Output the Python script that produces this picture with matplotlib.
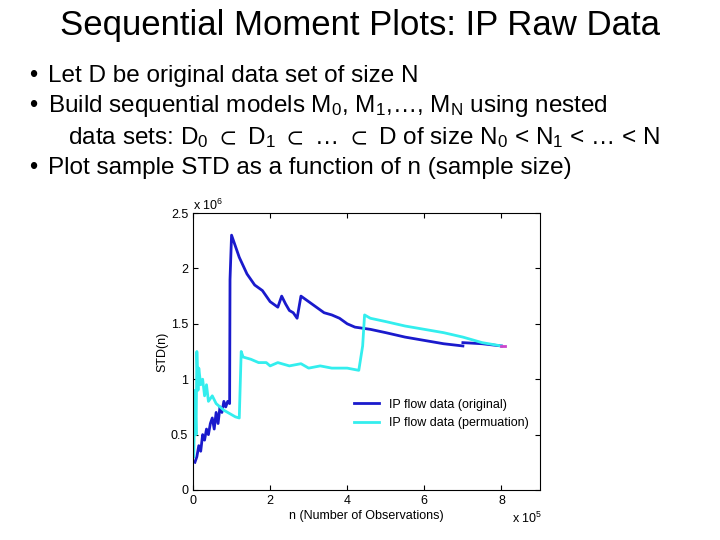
import matplotlib.pyplot as plt

plt.rcParams['font.family'] = ['Liberation Sans', 'DejaVu Sans']
plt.rcParams['mathtext.default'] = 'regular'

# dark blue: original order (x in units of 1e5)
orig_x = [0.05, 0.1, 0.15, 0.2, 0.25, 0.3, 0.35, 0.4, 0.45, 0.5, 0.55, 0.6, 0.65, 0.7, 0.75, 0.8, 0.85, 0.9, 0.95,
          0.96, 1.0, 1.1, 1.2, 1.4, 1.6, 1.8, 1.9, 2.0, 2.2, 2.3, 2.4, 2.5, 2.6, 2.7, 2.8, 3.0, 3.2, 3.4, 3.6,
          3.8, 4.0, 4.2, 4.4, 4.6, 5.0, 5.5, 6.0, 6.5, 7.0]
orig_y = [0.25, 0.3, 0.4, 0.35, 0.5, 0.45, 0.55, 0.5, 0.6, 0.65, 0.55, 0.7, 0.6, 0.75, 0.7, 0.8, 0.75, 0.8, 0.78,
          1.9, 2.3, 2.2, 2.1, 1.95, 1.85, 1.8, 1.75, 1.7, 1.65, 1.75, 1.68, 1.62, 1.6, 1.55, 1.75, 1.7,
          1.65, 1.6, 1.58, 1.55, 1.5, 1.47, 1.46, 1.45, 1.42, 1.38, 1.35, 1.32, 1.3]
orig2_x = [7.0, 7.5, 8.0]
orig2_y = [1.33, 1.32, 1.3]

# cyan: permuted order
perm_x = [0.02, 0.05, 0.08, 0.1, 0.13, 0.15, 0.2, 0.25, 0.3, 0.35, 0.4, 0.5, 0.6, 0.7, 0.8, 0.9, 1.0, 1.1, 1.2,
          1.25, 1.3, 1.5, 1.7, 1.9, 2.0, 2.2, 2.5, 2.8, 3.0, 3.3, 3.6, 4.0, 4.3, 4.4, 4.45, 4.6, 5.0, 5.5,
          6.0, 6.5, 7.0, 7.5, 8.0]
perm_y = [0.3, 0.9, 0.5, 1.25, 0.9, 1.1, 0.95, 1.0, 0.85, 0.95, 0.8, 0.85, 0.78, 0.75, 0.72, 0.7, 0.68, 0.66, 0.65,
          1.25, 1.2, 1.18, 1.15, 1.15, 1.12, 1.15, 1.12, 1.14, 1.1, 1.12, 1.1, 1.1, 1.08, 1.3, 1.58, 1.55,
          1.52, 1.48, 1.45, 1.42, 1.38, 1.33, 1.3]

fig = plt.figure(figsize=(7.2, 5.4), dpi=100)
fig.text(0.5, 0.935, 'Sequential Moment Plots: IP Raw Data', ha='center', fontsize=25)
bullets = [
    (0.86, '•', 'Let D be original data set of size N'),
    (0.803, '•', 'Build sequential models M$_0$, M$_1$,…, M$_N$ using nested'),
    (0.746, '', '   data sets: D$_0$ $\\subset$ D$_1$ $\\subset$ … $\\subset$ D of size N$_0$ < N$_1$ < … < N'),
    (0.688, '•', 'Plot sample STD as a function of n (sample size)'),
]
for y, b, t in bullets:
    if b:
        fig.text(0.04, y, b, fontsize=17, va='center')
    fig.text(0.067, y, t, fontsize=17.5, va='center')

ax = fig.add_axes([193 / 720, 1 - 490 / 540, 347 / 720, 277 / 540])
ax.plot(orig_x, orig_y, color='#1a1acc', lw=2, label='IP flow data (original)')
ax.plot(orig2_x, orig2_y, color='#1a1acc', lw=2)
ax.plot(perm_x, perm_y, color='#33eeee', lw=2, label='IP flow data (permuation)')
ax.plot([8.0, 8.1], [1.3, 1.3], color='#cc44cc', lw=2)
ax.set_xlim(0, 9)
ax.set_ylim(0, 2.5)
ax.set_xticks([0, 2, 4, 6, 8])
ax.set_xticklabels(['0', '2', '4', '6', '8'])
ax.set_yticks([0, 0.5, 1, 1.5, 2, 2.5])
ax.set_yticklabels(['0', '0.5', '1', '1.5', '2', '2.5'])
ax.tick_params(labelsize=9, direction='in', top=True, right=True)
ax.set_xlabel('n (Number of Observations)', fontsize=9, labelpad=2)
ax.set_ylabel('STD(n)', fontsize=9, labelpad=2)
ax.text(0.0, 1.01, 'x 10$^6$', transform=ax.transAxes, fontsize=9)
ax.text(0.92, -0.12, 'x 10$^5$', transform=ax.transAxes, fontsize=9)
ax.legend(loc='lower right', bbox_to_anchor=(1.0, 0.18), frameon=False, fontsize=9, handlelength=2)
fig.savefig('out.png')
